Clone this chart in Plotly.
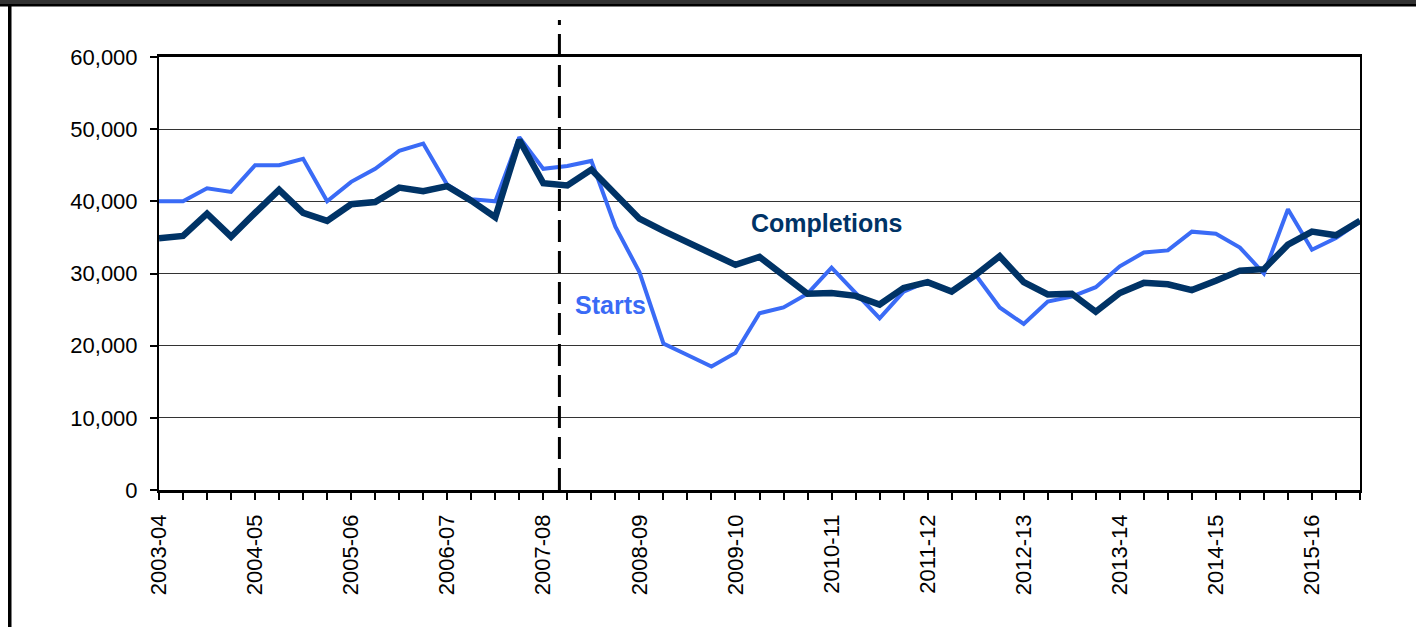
import plotly.graph_objects as go

# ---- data ----
years = ["2003-04", "2004-05", "2005-06", "2006-07", "2007-08", "2008-09", "2009-10",
         "2010-11", "2011-12", "2012-13", "2013-14", "2014-15", "2015-16"]
quarters = [f"{y} Q{q}" for y in years for q in range(1, 5)][:51]

starts = [40000, 40000, 41800, 41300, 45000, 45000, 45900, 40000, 42700, 44500,
          47000, 48000, 42300, 40300, 40000, 48900, 44500, 44900, 45600, 36500,
          30200, 20300, 18700, 17100, 19000, 24500, 25300, 27200, 30800, 27300,
          23800, 27500, 28900, 27500, 29800, 25300, 23000, 26100, 26800, 28100,
          31000, 32900, 33200, 35800, 35500, 33600, 30000, 38900, 33300, 34900,
          37200]
completions = [34900, 35200, 38300, 35100, 38400, 41600, 38400, 37300, 39600, 39900,
               41900, 41400, 42100, 40100, 37800, 48500, 42500, 42200, 44400, 41100,
               37600, 35900, 34300, 32800, 31200, 32300, 29800, 27200, 27300, 26900,
               25700, 28000, 28800, 27500, 29800, 32400, 28800, 27100, 27200, 24700,
               27300, 28700, 28500, 27700, 29000, 30400, 30600, 34000, 35800, 35300,
               37300]

y_ticks = [0, 10000, 20000, 30000, 40000, 50000, 60000]
event_position = 16.67  # dashed marker (in quarter index units)

FONT = "Liberation Sans, Arial, sans-serif"
x = list(range(len(quarters)))
ticktext = [q.split(" ")[0] if q.endswith("Q1") else "" for q in quarters]

fig = go.Figure()
fig.add_trace(go.Scatter(x=x, y=starts, mode="lines", name="Starts",
                         line=dict(color="#3A6BF6", width=4), hovertext=quarters))
fig.add_trace(go.Scatter(x=x, y=completions, mode="lines", name="Completions",
                         line=dict(color="#003366", width=6.5), hovertext=quarters))

fig.update_layout(
    width=1416, height=627,
    margin=dict(l=159, r=56, t=57, b=137),
    paper_bgcolor="white", plot_bgcolor="white",
    showlegend=False,
    font=dict(family=FONT, size=22, color="black"),
)
fig.update_xaxes(
    range=[0, len(quarters) - 1],
    tickmode="array", tickvals=x, ticktext=ticktext,
    tickangle=-90, ticks="outside", ticklen=7, tickwidth=1.5, tickcolor="black",
    showline=True, linecolor="black", linewidth=2.5, mirror=True,
    showgrid=False, zeroline=False,
    tickfont=dict(family=FONT, size=22, color="black"),
    ticklabelstandoff=6,
)
fig.update_yaxes(
    range=[0, 60000],
    tickmode="array", tickvals=y_ticks, ticktext=[f"{v:,}" for v in y_ticks],
    ticks="outside", ticklen=7, tickwidth=1.5, tickcolor="black",
    showline=True, linecolor="black", linewidth=2, mirror=True,
    showgrid=True, gridcolor="#333333", gridwidth=1.2, zeroline=False,
    tickfont=dict(family=FONT, size=22, color="black"),
    ticklabelstandoff=8,
)

# dashed vertical marker
fig.add_shape(type="line", xref="x", yref="paper",
              x0=event_position, x1=event_position, y0=0, y1=(490 - 20) / 433,
              line=dict(color="black", width=3, dash="22px,9px"))

# series labels
fig.add_annotation(x=27.8, y=37000, xref="x", yref="y", text="<b>Completions</b>",
                   showarrow=False, font=dict(family=FONT, size=25, color="#003366"))
fig.add_annotation(x=18.8, y=25600, xref="x", yref="y", text="<b>Starts</b>",
                   showarrow=False, font=dict(family=FONT, size=25, color="#3A6BF6"))

# frame decorations (cropped slide border)
W, H = 1201.0, 433.0
def px(v):
    return (v - 159) / W
def py(v):
    return (490 - v) / H

fig.add_shape(type="rect", xref="paper", yref="paper",
              x0=px(0), x1=px(1416), y0=py(4), y1=py(-1),
              fillcolor="#333333", line=dict(width=0), layer="above")
fig.add_shape(type="rect", xref="paper", yref="paper",
              x0=px(0), x1=px(1416), y0=py(6.5), y1=py(4),
              fillcolor="black", line=dict(width=0), layer="above")
fig.add_shape(type="rect", xref="paper", yref="paper",
              x0=px(8), x1=px(11.5), y0=py(628), y1=py(4),
              fillcolor="black", line=dict(width=0), layer="above")

fig.write_html("out.html",
               config={"displayModeBar": False},
               post_script="document.body.style.margin='0px';document.body.style.overflow='hidden';")
